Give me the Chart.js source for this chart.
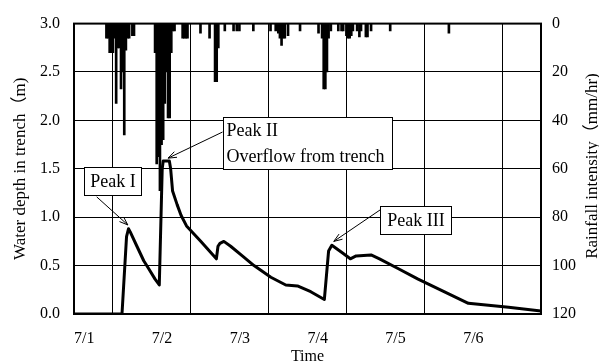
<!DOCTYPE html>
<html>
<head>
<meta charset="utf-8">
<script src="https://cdn.jsdelivr.net/npm/chart.js@4"></script>
<style>
  body { margin: 0; background: #fff; }
</style>
</head>
<body>
<canvas id="myChart" width="599" height="362"></canvas>
<script>
const dayLabels = ['7/1', '7/2', '7/3', '7/4', '7/5', '7/6'];

// water depth in trench (m), x in hours from 7/1 0:00
const depthHours = [0, 14.8, 16.2, 16.8, 17.3, 19.4, 21.5, 23.0, 25.0, 26.3, 27.2, 27.5, 29.4, 29.8, 30.4,
    31.8, 33.0, 34.7, 39.0, 43.9, 44.4, 45.0, 46.2, 48.3, 51.9, 55.5, 60.7, 65.3, 68.9, 73.0, 77.2,
    78.5, 79.5, 82.4, 85.2, 87.0, 91.6, 94.2, 99.9, 106.1, 113.3, 121.6, 127.8, 134.0, 144.0];
const depthValues = [0, 0, 0.80, 0.88, 0.85, 0.70, 0.55, 0.47, 0.36, 0.30, 1.50, 1.58, 1.58, 1.50, 1.27,
    1.13, 1.02, 0.91, 0.755, 0.57, 0.70, 0.73, 0.75, 0.70, 0.60, 0.50, 0.38, 0.30, 0.29, 0.23, 0.15,
    0.65, 0.71, 0.64, 0.57, 0.60, 0.61, 0.57, 0.47, 0.36, 0.245, 0.11, 0.09, 0.07, 0.03];

// rainfall intensity (mm/hr)
const rainHours = [10.0, 10.5, 11.0, 11.5, 12.0, 12.5, 13.0, 13.5, 14.0, 14.5, 15.0, 15.5, 16.0, 16.5, 17.0, 18.0, 18.5,
    25.0, 25.5, 26.0, 26.5, 27.0, 27.5, 28.0, 28.5, 29.0, 29.5, 30.0, 30.5, 31.0,
    33.5, 34.0, 34.5, 35.0, 39.0, 41.8, 43.5, 44.0, 44.5, 46.5, 49.2, 50.2, 51.0, 55.3,
    60.6, 62.2, 63.0, 63.5, 64.0, 64.5, 65.0, 66.0, 69.7, 75.4, 76.5, 77.0, 77.5, 78.0, 78.5, 79.2,
    81.5, 82.5, 83.0, 84.0, 84.5, 85.0, 85.5, 86.0, 87.3, 88.0, 88.5, 90.0, 90.5, 91.6, 97.5, 115.6];
const rainValues = [6, 6, 12, 12, 12, 6, 33, 10, 10, 27, 20, 46, 11, 6, 6, 5, 5,
    12, 58, 55, 69, 50, 48, 33, 20, 39, 39, 12, 3, 3,
    6, 6, 6, 6, 4, 6, 24, 24, 10, 3, 3, 3, 3, 3,
    3, 3, 4, 6, 9, 6, 6, 5, 3, 4, 6, 27, 27, 20, 6, 3,
    3, 3, 3, 5, 6, 6, 5, 3, 3, 5.5, 3, 5.5, 5.5, 3, 3, 4];

const serif = '"Liberation Serif", "Times New Roman", "Noto Sans CJK JP", serif';

// text boxes with arrows, in data units (hours, metres)
const callouts = [
    { lines: ['Peak I'], box: [3.1, 1.52, 20.9, 1.22], from: [7.0, 1.21], to: [16.6, 0.92], align: 'center' },
    { lines: ['Peak II', 'Overflow from trench'], box: [45.8, 2.03, 98.2, 1.49], from: [45.8, 1.88], to: [29.0, 1.61], align: 'left' },
    { lines: ['Peak III'], box: [94.3, 1.12, 116.4, 0.82], from: [94.6, 1.08], to: [80.1, 0.75], align: 'center' }
];

const calloutPlugin = {
    id: 'callouts',
    afterDraw(chart) {
        const { ctx, chartArea, scales: { x, y } } = chart;
        ctx.save();
        ctx.strokeStyle = '#000';
        ctx.lineWidth = 1;

        callouts.forEach((c) => {
            const x1 = x.getPixelForValue(c.from[0]), y1 = y.getPixelForValue(c.from[1]);
            const x2 = x.getPixelForValue(c.to[0]), y2 = y.getPixelForValue(c.to[1]);
            ctx.beginPath();
            ctx.moveTo(x1, y1);
            ctx.lineTo(x2, y2);
            ctx.stroke();
            const a = Math.atan2(y2 - y1, x2 - x1);
            ctx.beginPath();
            ctx.moveTo(x2 - 9 * Math.cos(a - 0.35), y2 - 9 * Math.sin(a - 0.35));
            ctx.lineTo(x2, y2);
            ctx.lineTo(x2 - 9 * Math.cos(a + 0.35), y2 - 9 * Math.sin(a + 0.35));
            ctx.stroke();

            const bx = Math.round(x.getPixelForValue(c.box[0])) + 0.5;
            const by = Math.round(y.getPixelForValue(c.box[1])) + 0.5;
            const bw = Math.round(x.getPixelForValue(c.box[2]) - bx);
            const bh = Math.round(y.getPixelForValue(c.box[3]) - by);
            ctx.fillStyle = '#fff';
            ctx.fillRect(bx, by, bw, bh);
            ctx.strokeRect(bx, by, bw, bh);

            ctx.fillStyle = '#000';
            ctx.font = '18px ' + serif;
            ctx.textBaseline = 'middle';
            const lh = bh / c.lines.length;
            c.lines.forEach((t, i) => {
                if (c.align === 'center') {
                    ctx.textAlign = 'center';
                    ctx.fillText(t, bx + bw / 2, by + lh * (i + 0.5) + 1);
                } else {
                    ctx.textAlign = 'left';
                    ctx.fillText(t, bx + 3, by + lh * (i + 0.5) + 1);
                }
            });
        });

        // plot frame
        ctx.lineWidth = 2;
        ctx.strokeRect(chartArea.left, chartArea.top, chartArea.right - chartArea.left, chartArea.bottom - chartArea.top);

        // right axis title, reading bottom to top
        ctx.translate(593, 166);
        ctx.rotate(-Math.PI / 2);
        ctx.font = '17px ' + serif;
        ctx.textAlign = 'center';
        ctx.textBaseline = 'middle';
        ctx.fillText('Rainfall intensity（mm/hr)', 0, 0);
        ctx.restore();
    }
};

Chart.defaults.font.family = serif;
Chart.defaults.font.size = 16;
Chart.defaults.color = '#000';

const ctx = document.getElementById('myChart');
const myChart = new Chart(ctx, {
    type: 'line',
    data: {
        datasets: [{
            type: 'line',
            label: 'Water depth',
            data: depthHours.map((h, i) => ({ x: h, y: depthValues[i] })),
            yAxisID: 'y',
            borderColor: '#000',
            borderWidth: 3,
            pointRadius: 0,
            tension: 0,
            borderJoinStyle: 'round',
            order: 1
        }, {
            type: 'bar',
            label: 'Rainfall',
            data: rainHours.map((h, i) => ({ x: h, y: rainValues[i] })),
            yAxisID: 'y2',
            backgroundColor: '#000',
            borderWidth: 0,
            barThickness: 2,
            order: 2
        }]
    },
    options: {
        responsive: false,
        animation: false,
        devicePixelRatio: 1,
        layout: { padding: { top: 20, left: 0, right: 0, bottom: 0 } },
        plugins: {
            legend: { display: false },
            tooltip: { enabled: false }
        },
        scales: {
            x: {
                type: 'linear',
                min: 0,
                max: 144,
                offset: false,
                afterFit: (scale) => { scale.height = 48; },
                grid: { color: '#000', lineWidth: 1, drawTicks: false },
                border: { display: false },
                ticks: {
                    stepSize: 24,
                    autoSkip: false,
                    maxRotation: 0,
                    align: 'start',
                    padding: 15,
                    callback: (v) => dayLabels[v / 24] || ''
                },
                title: {
                    display: true,
                    text: 'Time',
                    font: { size: 16 },
                    padding: { top: 0, bottom: -4 }
                }
            },
            y: {
                position: 'left',
                min: 0,
                max: 3,
                afterFit: (scale) => { scale.width = 74; },
                grid: { color: '#000', lineWidth: 1, drawTicks: false },
                border: { display: false },
                ticks: {
                    stepSize: 0.5,
                    padding: 14,
                    callback: (v) => v.toFixed(1)
                },
                title: {
                    display: true,
                    text: 'Water depth in trench（m)',
                    font: { size: 17 },
                    padding: { top: 10, bottom: 0 }
                }
            },
            y2: {
                position: 'right',
                reverse: true,
                min: 0,
                max: 120,
                afterFit: (scale) => { scale.width = 58; },
                grid: { display: false, drawTicks: false },
                border: { display: false },
                ticks: { stepSize: 20, padding: 11 }
            }
        }
    },
    plugins: [calloutPlugin]
});
</script>
</body>
</html>
